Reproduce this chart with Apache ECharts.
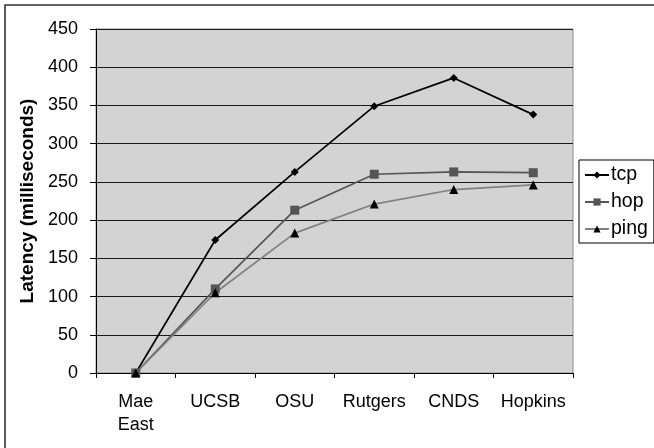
<!DOCTYPE html>
<html>
<head>
<meta charset="utf-8">
<script src="https://cdn.jsdelivr.net/npm/echarts@6/dist/echarts.min.js"></script>
<style>
  html, body { margin: 0; padding: 0; background: #fff; }
  #chart { width: 654px; height: 448px; }
</style>
</head>
<body>
<div id="chart"></div>
<script>
// Latency to each site, in milliseconds
const sites = ['Mae\nEast', 'UCSB', 'OSU', 'Rutgers', 'CNDS', 'Hopkins'];
const tcp = [0, 174, 263, 349, 386, 338];
const hop = [0, 110, 213, 260, 263, 262];
const ping = [0, 105, 183, 221, 240, 246];
const yTicks = { min: 0, max: 450, step: 50 };

const FONT = 'Liberation Sans, Arial, sans-serif';
const TICK_FS = 18;
const TITLE_FS = 19;
const LEGEND_FS = 19.5;

const chart = echarts.init(document.getElementById('chart'), null, { renderer: 'canvas' });

function lineSeries(name, data, lineColor, markColor, symbol, size) {
  return {
    name: name,
    type: 'line',
    data: data,
    symbol: symbol,
    symbolSize: size,
    showAllSymbol: true,
    lineStyle: { color: lineColor, width: 1.7 },
    itemStyle: { color: markColor },
    emphasis: { disabled: true },
    z: 3
  };
}

chart.setOption({
  animation: false,
  backgroundColor: '#fff',
  textStyle: { fontFamily: FONT },
  graphic: [{
    type: 'rect',
    shape: { x: 5, y: 5, width: 700, height: 500 },
    style: { fill: 'none', stroke: '#333', lineWidth: 1.6 },
    z: -10
  }],
  grid: {
    left: 96, top: 29, width: 477, height: 344,
    show: true, backgroundColor: '#d3d3d3',
    borderColor: '#8c8c8c', borderWidth: 1
  },
  legend: {
    orient: 'vertical',
    left: 579, top: 160,
    padding: [5, 6, 4, 5],
    itemGap: 7,
    itemWidth: 24, itemHeight: 9,
    borderColor: '#000', borderWidth: 1,
    backgroundColor: '#fff',
    textStyle: { fontFamily: FONT, fontSize: LEGEND_FS, color: '#000', padding: [0, 0, 0, -3] },
    data: ['tcp', 'hop', 'ping']
  },
  xAxis: {
    type: 'category',
    data: sites,
    boundaryGap: true,
    axisLine: { lineStyle: { color: '#000', width: 1 } },
    axisTick: { show: true, length: 5, lineStyle: { color: '#000' } },
    axisLabel: { fontFamily: FONT, fontSize: TICK_FS, color: '#000', margin: 18, lineHeight: 23, interval: 0 },
    splitLine: { show: false }
  },
  yAxis: {
    type: 'value',
    min: yTicks.min, max: yTicks.max, interval: yTicks.step,
    name: 'Latency (milliseconds)',
    nameLocation: 'middle',
    nameGap: 57,
    nameTextStyle: { fontFamily: FONT, fontSize: TITLE_FS, fontWeight: 'bold', color: '#000' },
    axisLine: { show: true, lineStyle: { color: '#000', width: 1 } },
    axisTick: { show: true, length: 6, lineStyle: { color: '#000' } },
    axisLabel: { fontFamily: FONT, fontSize: TICK_FS, color: '#000', margin: 18 },
    splitLine: { show: true, lineStyle: { color: '#1a1a1a', width: 1 } }
  },
  series: [
    lineSeries('tcp', tcp, '#000000', '#000000', 'diamond', 8),
    lineSeries('hop', hop, '#555555', '#555555', 'rect', 9),
    lineSeries('ping', ping, '#808080', '#000000', 'triangle', 9)
  ]
});
</script>
</body>
</html>
